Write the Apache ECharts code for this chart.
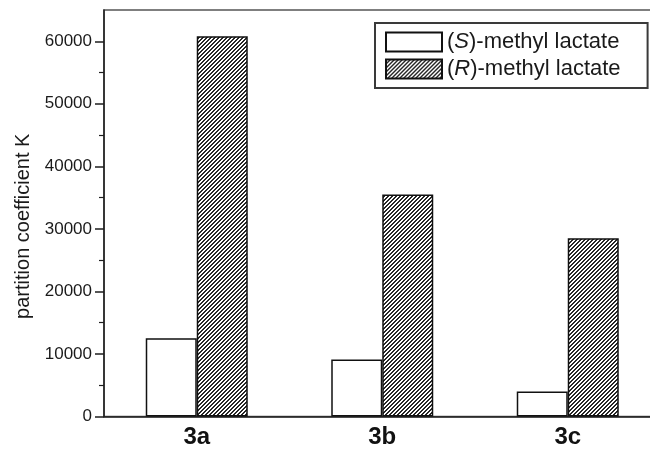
<!DOCTYPE html>
<html>
<head>
<meta charset="utf-8">
<script src="https://cdn.jsdelivr.net/npm/echarts@6/dist/echarts.min.js"></script>
<style>html,body{margin:0;padding:0;background:#fff;overflow:hidden;width:650px;height:457px;}#c{width:661px;height:457px;}</style>
</head>
<body>
<div id="c"></div>
<script>
var categories = ['3a', '3b', '3c'];
var seriesNames = ['(S)-methyl lactate', '(R)-methyl lactate'];
var sValues = [12500, 9100, 4000];
var rValues = [60800, 35500, 28500];
var yMajorTicks = [0, 10000, 20000, 30000, 40000, 50000, 60000];
var yMinorTicks = [5000, 15000, 25000, 35000, 45000, 55000];

function makePattern() {
  var c = document.createElement('canvas');
  c.width = 4; c.height = 4;
  var ctx = c.getContext('2d');
  ctx.fillStyle = '#ffffff';
  ctx.fillRect(0, 0, 4, 4);
  ctx.fillStyle = '#262626';
  for (var y = 0; y < 4; y++) {
    ctx.fillRect((3 - y + 4) % 4, y, 1, 1);
    ctx.fillRect((4 - y + 4) % 4, y, 1, 1);
  }
  return c;
}

var chart = echarts.init(document.getElementById('c'), null, {renderer: 'canvas'});
var font = 'Liberation Sans, Arial, sans-serif';
var axisColor = '#1e1e1e';

chart.setOption({
  animation: false,
  backgroundColor: '#ffffff',
  textStyle: {fontFamily: font, color: '#1a1a1a'},
  grid: {left: 104, top: 10, right: 0.5, bottom: 40.5, show: true, borderColor: '#555', borderWidth: 1.5, containLabel: false},
  legend: {
    orient: 'vertical', left: 375, top: 23,
    itemWidth: 56, itemHeight: 19, itemGap: 5,
    padding: [8, 27, 8, 10],
    borderColor: '#3a3a3a', borderWidth: 2,
    icon: 'rect',
    textStyle: {fontSize: 22, lineHeight: 20, fontFamily: font, color: '#1a1a1a', rich: {i: {fontStyle: 'italic', fontSize: 22, lineHeight: 20, fontFamily: font, color: '#1a1a1a'}}},
    formatter: function (name) {
      return name.replace(/\((S|R)\)/, '({i|$1})');
    },
    data: seriesNames
  },
  xAxis: [{
    type: 'category', data: categories, boundaryGap: true,
    axisLine: {lineStyle: {color: axisColor, width: 1.5}},
    axisTick: {alignWithLabel: true, length: 9, lineStyle: {color: axisColor, width: 1.5}},
    axisLabel: {fontSize: 24, fontWeight: 'bold', margin: 9, color: '#111', fontFamily: font},
    splitLine: {show: false}
  }, {
    type: 'category', data: categories, boundaryGap: true, position: 'bottom',
    axisLine: {show: false},
    axisTick: {length: 4, lineStyle: {color: axisColor, width: 1.2}},
    axisLabel: {show: false},
    splitLine: {show: false}
  }],
  yAxis: [{
    type: 'value', min: 0, max: 65000, interval: 10000,
    name: 'partition coefficient K', nameLocation: 'middle', nameGap: 70,
    nameTextStyle: {fontSize: 20, fontFamily: font, color: '#1a1a1a', padding: [0, 26, 0, 0]},
    axisLine: {show: true, lineStyle: {color: axisColor, width: 1.5}},
    axisTick: {show: true, length: 9, customValues: yMajorTicks, lineStyle: {color: axisColor, width: 1.5}},
    axisLabel: {fontSize: 17, margin: 12, customValues: yMajorTicks, color: '#1a1a1a', fontFamily: font,
      formatter: function (v) { return String(v); }},
    splitLine: {show: false}
  }, {
    type: 'value', min: 0, max: 65000, interval: 10000, position: 'left',
    axisLine: {show: false},
    axisTick: {show: true, length: 5, customValues: yMinorTicks, lineStyle: {color: axisColor, width: 1.2}},
    axisLabel: {show: false},
    splitLine: {show: false}
  }],
  series: [{
    name: seriesNames[0], type: 'bar', data: sValues, barWidth: 51, barGap: '0%',
    itemStyle: {color: '#ffffff', borderColor: '#111', borderWidth: 1.5}
  }, {
    name: seriesNames[1], type: 'bar', data: rValues, barWidth: 51, barGap: '0%',
    itemStyle: {color: {image: makePattern(), repeat: 'repeat'}, borderColor: '#111', borderWidth: 1.5}
  }]
});
</script>
</body>
</html>
